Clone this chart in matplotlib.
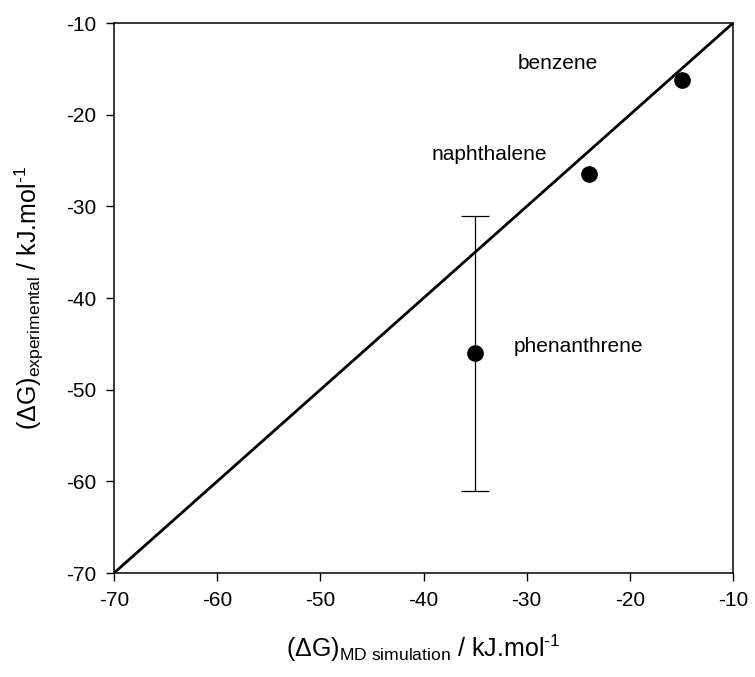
import numpy as np
import matplotlib
matplotlib.use("Agg")
import matplotlib.pyplot as plt

plt.rcParams['font.family'] = ['Liberation Sans', 'DejaVu Sans']
plt.rcParams['mathtext.fontset'] = 'custom'
plt.rcParams['mathtext.rm'] = 'Liberation Sans'
plt.rcParams['mathtext.it'] = 'Liberation Sans:italic'
plt.rcParams['axes.unicode_minus'] = False

# solvation free energies, kJ/mol
compounds = ['benzene', 'naphthalene', 'phenanthrene']
dg_md = np.array([-15, -24, -35])
dg_exp = np.array([-16.2, -26.5, -46])
dg_err = np.array([0, 0, 15])

# label anchor points (data units)
label_x = [-30.9, -39.2, -31.3]
label_y = [-14.4, -24.3, -45.3]

diag = [-70, -10]

fig = plt.figure(figsize=(7.55, 6.77), dpi=100)
ax = fig.add_axes([0.151, 0.1536, 0.82, 0.8124])

ax.plot(diag, diag, color='black', lw=2.0, zorder=2)
# only the points with an uncertainty get bars
has_err = dg_err > 0
ax.errorbar(dg_md[has_err], dg_exp[has_err], yerr=dg_err[has_err], fmt='none',
            ecolor='black', elinewidth=0.9, capsize=10, capthick=0.9, zorder=3)
ax.plot(dg_md, dg_exp, 'o', color='black', markersize=11, zorder=4)
for name, x, y in zip(compounds, label_x, label_y):
    ax.text(x, y, name, fontsize=15, ha='left', va='center')

ax.set_xlim(-70, -10)
ax.set_ylim(-70, -10)
ax.set_xticks(np.arange(-70, -9, 10))
ax.set_yticks(np.arange(-70, -9, 10))
ax.tick_params(direction='out', length=6, width=1.0, labelsize=15, pad=7,
               top=False, right=False)
for s in ax.spines.values():
    s.set_linewidth(1.1)

ax.set_xlabel('(ΔG)$_{\\mathrm{MD\\ simulation}}$ / kJ.mol$^{\\text{-1}}$',
              fontsize=18, labelpad=16)
ax.set_ylabel('(ΔG)$_{\\mathrm{experimental}}$ / kJ.mol$^{\\text{-1}}$',
              fontsize=18, labelpad=14)

fig.savefig('out.png', dpi=100)
